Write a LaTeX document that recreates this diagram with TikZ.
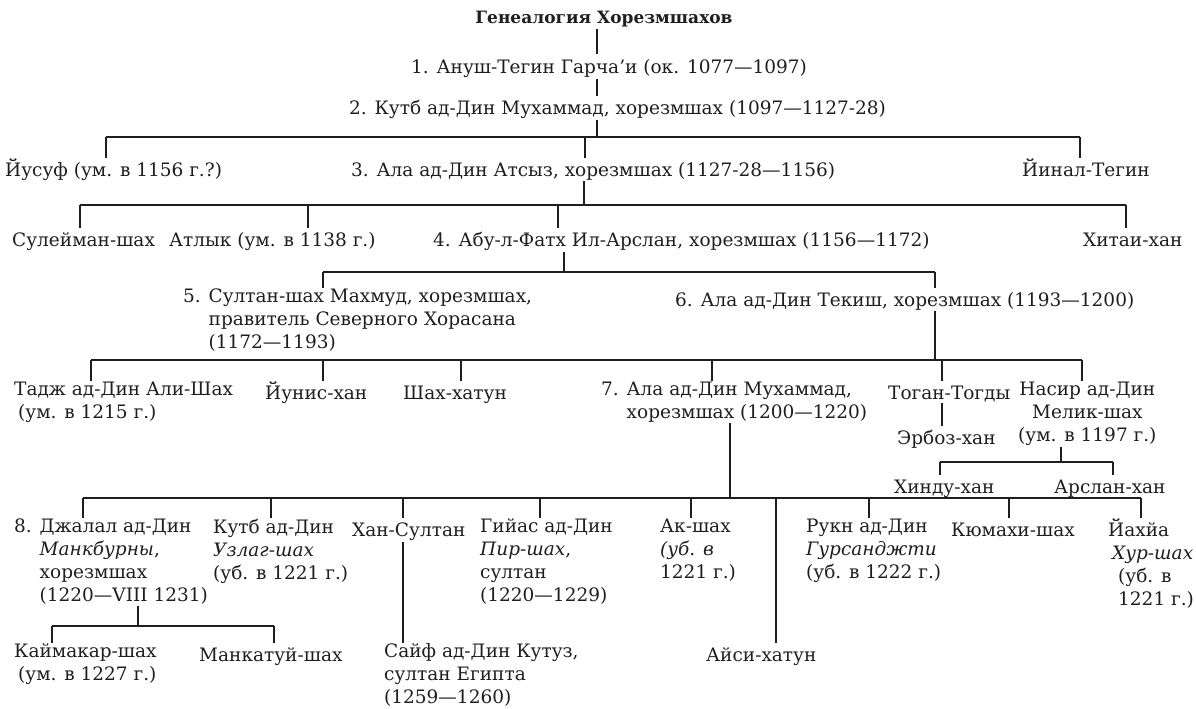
\documentclass[tikz,border=0pt]{standalone}
\usepackage{fontspec}
\setmainfont{DejaVu Serif}
\usepackage{tikz}
\usetikzlibrary{positioning,calc}
\definecolor{ink}{HTML}{1E1E1E}
\tikzset{
  pers/.style  ={inner sep=1pt, anchor=north west, yshift=18.5pt, align=left, text=ink,
                 font=\fontsize{18.5}{23}\selectfont,
                 execute at begin node={\rule{0pt}{17.5pt}}},
  persc/.style ={pers, align=center},
  ttl/.style   ={inner sep=1pt, anchor=base, text=ink,
                 font=\bfseries\fontsize{17}{20}\selectfont},
  ln/.style    ={draw=ink, line width=1.1pt},
}
\newcommand{\ind}[1]{\phantom{#1}}

\begin{document}
\begin{tikzpicture}[x=1pt,y=-1pt]
\useasboundingbox (0,0) rectangle (1196,709);
% generations 1-4
\node[ttl] (ttl) at (604,24) {Генеалогия Хорезмшахов};
\node[pers] (a1) at (410,73) {1. Ануш-Тегин Гарча'и (ок. 1077—1097)};
\node[pers] (a2) at (348,114) {2. Кутб ад-Дин Мухаммад, хорезмшах (1097—1127-28)};
\node[pers] (yusuf) at (4,176) {Йусуф (ум. в 1156 г.?)};
\node[pers] (a3) at (350,176) {3. Ала ад-Дин Атсыз, хорезмшах (1127-28—1156)};
\node[pers] (yinal) at (1021,176) {Йинал-Тегин};
\node[pers] (suleiman) at (11,246) {Сулейман-шах};
\node[pers] (atlyk) at (168,246) {Атлык (ум. в 1138 г.)};
\node[pers] (a4) at (432,246) {4. Абу-л-Фатх Ил-Арслан, хорезмшах (1156—1172)};
\node[pers] (khitai) at (1082,246) {Хитаи-хан};
% generations 5-6
\node[pers] (a5) at (182,306)
  {5. Султан-шах Махмуд, хорезмшах,\\\ind{5. }правитель Северного Хорасана\\\ind{5. }(1172—1193)};
\node[pers] (a6) at (674,306) {6. Ала ад-Дин Текиш, хорезмшах (1193—1200)};
\node[pers] (tadzh) at (13,399) {Тадж ад-Дин Али-Шах\\\hspace*{4pt}(ум. в 1215 г.)};
\node[pers] (yunis) at (264,399) {Йунис-хан};
\node[pers] (shakh) at (402,399) {Шах-хатун};
\node[pers] (a7) at (600,399) {7. Ала ад-Дин Мухаммад,\\\ind{7. }хорезмшах (1200—1220)};
\node[pers] (togan) at (887,399) {Тоган-Тогды};
\node[pers] (erboz) at (896,444) {Эрбоз-хан};
\node[persc] (nasir) at (1017,399) {Насир ад-Дин\\Мелик-шах\\(ум. в 1197 г.)};
\node[pers] (hindu) at (893,493) {Хинду-хан};
\node[pers] (arslan) at (1053,493) {Арслан-хан};
% generations 7-8
\node[pers] (a8) at (13,536)
  {8. Джалал ад-Дин\\\ind{8. }\textit{Манкбурны},\\\ind{8. }хорезмшах\\\ind{8. }(1220—VIII 1231)};
\node[pers] (kutb) at (212,536) {Кутб ад-Дин\\\textit{Узлаг-шах}\\(уб. в 1221 г.)};
\node[pers] (khansultan) at (351,536) {Хан-Султан};
\node[pers] (giyas) at (479,536) {Гийас ад-Дин\\\textit{Пир-шах},\\султан\\(1220—1229)};
\node[pers] (akshah) at (659,536) {Ак-шах\\\textit{(уб. в}\\1221 г.)};
\node[pers] (rukn) at (805,536) {Рукн ад-Дин\\\textit{Гурсанджти}\\(уб. в 1222 г.)};
\node[pers] (kyumakhi) at (950,536) {Кюмахи-шах};
\node[pers] (yakhya) at (1107,536)
  {Йахйа\\\hspace*{4pt}\textit{Хур-шах}\\\hspace*{10pt}(уб. в\\\hspace*{10pt}1221 г.)};
\node[pers] (kaimakar) at (13,661) {Каймакар-шах\\\hspace*{4pt}(ум. в 1227 г.)};
\node[pers] (mankatui) at (198,661) {Манкатуй-шах};
\node[pers] (saif) at (383,661) {Сайф ад-Дин Кутуз,\\султан Египта\\(1259—1260)};
\node[pers] (aisi) at (705,661) {Айси-хатун};

% single descents
\draw[ln] (597,0 |- ttl.south) -- (597,0 |- a1.north);
\draw[ln] (597,0 |- a1.south) -- (597,0 |- a2.north);
\draw[ln] (942,0 |- togan.south) -- (942,0 |- erboz.north);
\draw[ln] (403,0 |- khansultan.south) -- (403,0 |- saif.north);
% families: parent line, bar, drops
\draw[ln] (597,0 |- a2.south) -- (597,137);
\draw[ln] (106,137) -- (1080,137);
\foreach \x/\n in {106/yusuf, 585/a3, 1080/yinal}{\draw[ln] (\x,137) -- (\x,0 |- \n.north);}
\draw[ln] (584,0 |- a3.south) -- (584,205);
\draw[ln] (80,205) -- (1126,205);
\foreach \x/\n in {80/suleiman, 308/atlyk, 558/a4, 1126/khitai}{\draw[ln] (\x,205) -- (\x,0 |- \n.north);}
\draw[ln] (564,0 |- a4.south) -- (564,272);
\draw[ln] (323,272) -- (935,272);
\foreach \x/\n in {323/a5, 935/a6}{\draw[ln] (\x,272) -- (\x,0 |- \n.north);}
\draw[ln] (935,0 |- a6.south) -- (935,360);
\draw[ln] (91,360) -- (1082,360);
\foreach \x/\n in {91/tadzh, 323/yunis, 461/shakh, 712/a7, 942/togan, 1082/nasir}{\draw[ln] (\x,360) -- (\x,0 |- \n.north);}
\draw[ln] (1061,0 |- nasir.south) -- (1061,462);
\draw[ln] (940,462) -- (1113,462);
\foreach \x/\n in {940/hindu, 1113/arslan}{\draw[ln] (\x,462) -- (\x,0 |- \n.north);}
\draw[ln] (730,0 |- a7.south) -- (730,498);
\draw[ln] (83,498) -- (1141,498);
\foreach \x/\n in {83/a8, 271/kutb, 403/khansultan, 540/giyas, 691/akshah, 776/aisi, 869/rukn, 1009/kyumakhi, 1141/yakhya}{\draw[ln] (\x,498) -- (\x,0 |- \n.north);}
\draw[ln] (138,0 |- a8.south) -- (138,626);
\draw[ln] (52,626) -- (274,626);
\foreach \x/\n in {52/kaimakar, 274/mankatui}{\draw[ln] (\x,626) -- (\x,0 |- \n.north);}
\end{tikzpicture}
\end{document}
